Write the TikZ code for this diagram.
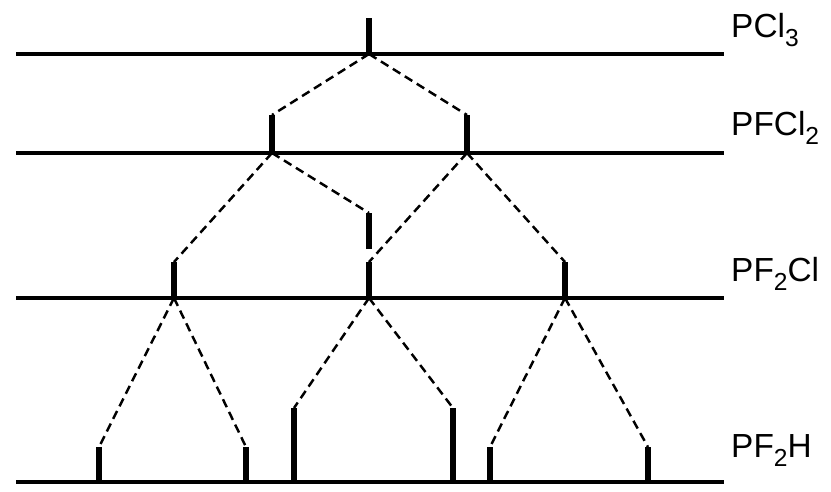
\documentclass[tikz,border=0pt]{standalone}
\usepackage{fontspec}
\setmainfont{Liberation Sans}
\usetikzlibrary{positioning}
\newcommand{\lowsub}[1]{\raisebox{-8.5pt}{\fontsize{21}{22}\selectfont #1}}

\begin{document}
\begin{tikzpicture}[x=0.03cm, y=-0.03cm]
  \tikzset{
    level/.style={line width=3pt},
    stick/.style={line width=4.4pt},
    split/.style={line width=2.1pt, dash pattern=on 7.5pt off 4.5pt},
    compound/.style={anchor=base west, inner sep=0pt, font=\fontsize{28.5}{30}\selectfont}
  }
  \useasboundingbox (0,0) rectangle (831,491);

  % Energy levels
  \draw[level] (16,54) -- (724,54);
  \draw[level] (16,153) -- (724,153);
  \draw[level] (16,298) -- (724,298);
  \draw[level] (16,482) -- (724,482);

  \node[compound] (pcl3)  at (731,37)  {PCl\lowsub{3}};
  \node[compound] (pfcl2) at (731,135) {PFCl\lowsub{2}};
  \node[compound] (pf2cl) at (731,281) {PF\lowsub{2}Cl};
  \node[compound] (pf2h)  at (731,457) {PF\lowsub{2}H};

  % PCl3 line
  \coordinate (A) at (369,54);   \coordinate (At) at (369,18);
  \draw[stick] (A) -- (At);

  % PFCl2 lines
  \coordinate (B1) at (272,153); \coordinate (B1t) at (272,115);
  \coordinate (B2) at (467,153); \coordinate (B2t) at (467,115);
  \draw[stick] (B1) -- (B1t);
  \draw[stick] (B2) -- (B2t);
  \draw[split] (A) -- (B1t);
  \draw[split] (A) -- (B2t);

  % Floating line between PFCl2 and PF2Cl
  \coordinate (F) at (369,249);  \coordinate (Ft) at (369,213);
  \draw[stick] (F) -- (Ft);
  \draw[split] (B1) -- (Ft);

  % PF2Cl lines
  \coordinate (C1) at (174,298); \coordinate (C1t) at (174,262);
  \coordinate (C2) at (369,298); \coordinate (C2t) at (369,262);
  \coordinate (C3) at (565,298); \coordinate (C3t) at (565,262);
  \draw[stick] (C1) -- (C1t);
  \draw[stick] (C2) -- (C2t);
  \draw[stick] (C3) -- (C3t);
  \draw[split] (B1) -- (C1t);
  \draw[split] (B2) -- (C2t);
  \draw[split] (B2) -- (C3t);

  % PF2H lines
  \coordinate (D1) at (99,482);  \coordinate (D1t) at (99,447);
  \coordinate (D2) at (246,482); \coordinate (D2t) at (246,447);
  \coordinate (D3) at (294,482); \coordinate (D3t) at (294,408);
  \coordinate (D4) at (453,482); \coordinate (D4t) at (453,408);
  \coordinate (D5) at (490,482); \coordinate (D5t) at (490,447);
  \coordinate (D6) at (648,482); \coordinate (D6t) at (648,447);
  \draw[stick] (D1) -- (D1t);
  \draw[stick] (D2) -- (D2t);
  \draw[stick] (D3) -- (D3t);
  \draw[stick] (D4) -- (D4t);
  \draw[stick] (D5) -- (D5t);
  \draw[stick] (D6) -- (D6t);
  \draw[split] (C1) -- (D1t);
  \draw[split] (C1) -- (D2t);
  \draw[split] (C2) -- (D3t);
  \draw[split] (C2) -- (D4t);
  \draw[split] (C3) -- (D5t);
  \draw[split] (C3) -- (D6t);
\end{tikzpicture}
\end{document}
